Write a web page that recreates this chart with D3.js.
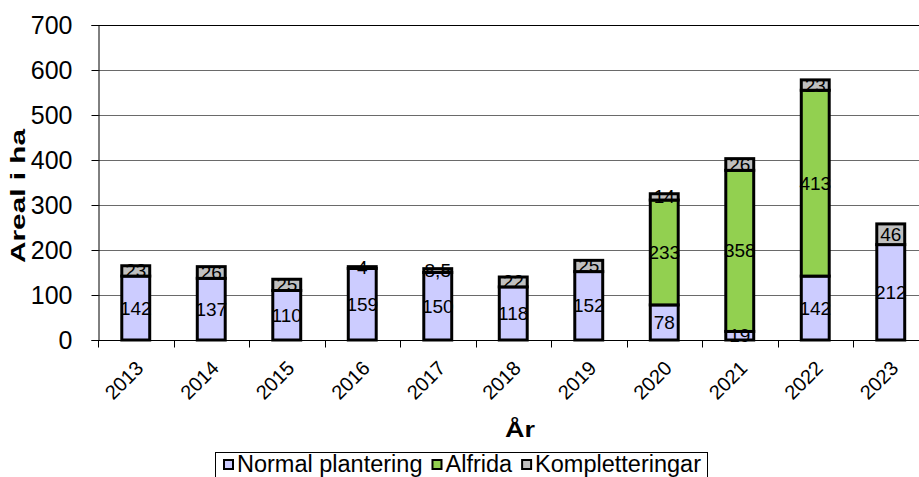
<!DOCTYPE html>
<html><head><meta charset="utf-8">
<script src="https://cdn.jsdelivr.net/npm/d3@7"></script>
<style>body{margin:0;background:#fff}svg{display:block;font-family:"Liberation Sans",Arial,sans-serif}</style>
</head><body><svg id="c" width="919" height="477"></svg>
<script>
const years = ["2013","2014","2015","2016","2017","2018","2019","2020","2021","2022","2023"];
const normal = [142,137,110,159,150,118,152,78,19,142,212];
const alfrida = [0,0,0,0,0,0,0,233,358,413,0];
const komplett = [23,26,25,4,8.5,22,25,14,26,23,46];
const seriesNames = ["Normal plantering","Alfrida","Kompletteringar"];
const seriesColors = ["#CCCCFF","#92D050","#C0C0C0"];
const yTicks = [0,100,200,300,400,500,600,700];
const FF = "Liberation Sans, Arial, sans-serif";

const svg = d3.select("#c");
const x = d3.scaleBand().domain(years).range([98, 928.5]).paddingInner(0.63).paddingOuter(0.315);
const y = d3.scaleLinear().domain([0,700]).range([340,25]);

// gridlines
svg.append("g").selectAll("line").data(yTicks.slice(1)).join("line")
  .attr("x1",98).attr("x2",919).attr("y1",d=>Math.round(y(d))+0.5).attr("y2",d=>Math.round(y(d))+0.5)
  .attr("stroke",d=>d===700?"#000":"#6a6a6a").attr("stroke-width",1);

// y axis
const ya = svg.append("g").attr("transform","translate(98.5,0)")
  .call(d3.axisLeft(y).tickValues(yTicks).tickSize(7).tickPadding(19));
ya.select(".domain").attr("stroke","#000");
ya.selectAll(".tick line").attr("stroke","#000");
ya.selectAll("text").attr("font-size",25).attr("fill","#000").attr("font-family",FF);

const stacks = years.map((yr,i)=>{
  const vals=[normal[i],alfrida[i],komplett[i]];
  let acc=0; return vals.map((v,k)=>{const s={yr,k,v,y0:acc,y1:acc+v};acc+=v;return s;});
});
const segs = stacks.flat().filter(s=>s.v>0);

// x axis
const xa = svg.append("g").attr("transform","translate(0,340.5)");
xa.append("line").attr("x1",98).attr("x2",919).attr("stroke","#000");
const step = x.step();
xa.selectAll(".t").data(d3.range(0,12)).join("line")
  .attr("x1",i=>Math.round(98+i*step)+0.5).attr("x2",i=>Math.round(98+i*step)+0.5)
  .attr("y1",0).attr("y2",7).attr("stroke","#000");
xa.selectAll(".lbl").data(years).join("text")
  .attr("transform",d=>`translate(${x(d)+x.bandwidth()/2-1},${19}) rotate(-45)`)
  .attr("text-anchor","end").attr("dy","0.7em").attr("font-size",20).attr("fill","#000").text(d=>d);

// bars
svg.append("g").selectAll("rect").data(segs).join("rect")
  .attr("x",d=>x(d.yr)).attr("width",x.bandwidth())
  .attr("y",d=>y(d.y1)).attr("height",d=>y(d.y0)-y(d.y1))
  .attr("fill",d=>seriesColors[d.k]).attr("stroke","#000").attr("stroke-width",3);

// value labels
svg.append("g").selectAll("text").data(segs).join("text")
  .attr("x",d=>x(d.yr)+x.bandwidth()/2).attr("y",d=>y((d.y0+d.y1)/2))
  .attr("text-anchor","middle").attr("dominant-baseline","central")
  .attr("font-size",19).attr("fill","#000")
  .text(d=>String(d.v).replace(".",","));

// axis titles
svg.append("text").attr("transform","translate(25,196) rotate(-90)").attr("text-anchor","middle")
  .attr("font-size",21).attr("font-weight","bold")
  .attr("textLength",134).attr("lengthAdjust","spacingAndGlyphs").text("Areal i ha");
svg.append("text").attr("x",520).attr("y",437).attr("text-anchor","middle")
  .attr("font-size",22).attr("font-weight","bold")
  .attr("textLength",30).attr("lengthAdjust","spacingAndGlyphs").text("År");

// legend
const lg = svg.append("g");
const box = lg.append("rect").attr("x",215.5).attr("y",452.5).attr("height",40).attr("fill","#fff").attr("stroke","#000");
let lx = 223;
seriesNames.forEach((n,i)=>{
  lg.append("rect").attr("x",lx+1).attr("y",460).attr("width",9).attr("height",9)
    .attr("fill",seriesColors[i]).attr("stroke","#000").attr("stroke-width",2);
  const t = lg.append("text").attr("x",lx+14).attr("y",472).attr("font-size",23.5).text(n);
  lx += 14 + t.node().getComputedTextLength() + 9;
});
box.attr("width",707-215);
</script></body></html>
